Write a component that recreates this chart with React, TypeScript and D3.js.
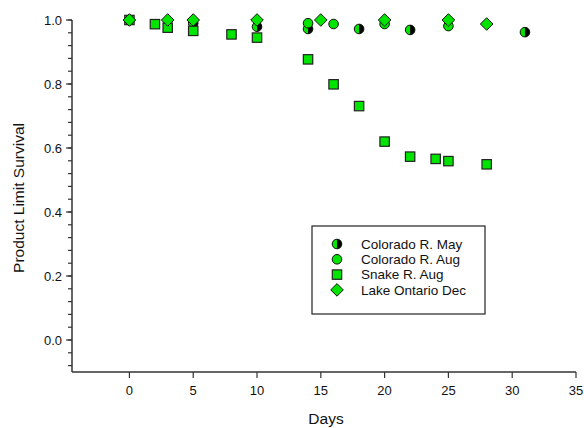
import React from "react";
import * as d3 from "d3";

const mayDays = [0, 5, 10, 14, 18, 22, 31];
const mayVals = [1.0, 0.99, 0.979, 0.972, 0.972, 0.969, 0.962];
const augDays = [0, 14, 16, 20, 25];
const augVals = [1.0, 0.99, 0.9875, 0.9875, 0.981];
const snakeDays = [0, 2, 3, 5, 8, 10, 14, 16, 18, 20, 22, 24, 25, 28];
const snakeVals = [1.0, 0.987, 0.976, 0.966, 0.955, 0.945, 0.877, 0.799, 0.731, 0.62, 0.573, 0.566, 0.559, 0.549];
const lakeDays = [0, 3, 5, 10, 15, 20, 25, 28];
const lakeVals = [1.0, 1.0, 1.0, 1.0, 1.0, 1.0, 1.0, 0.9875];
const xTicks = [0, 5, 10, 15, 20, 25, 30, 35];
const yTicks = [0.0, 0.2, 0.4, 0.6, 0.8, 1.0];
const seriesNames = ["Colorado R. May", "Colorado R. Aug", "Snake R. Aug", "Lake Ontario Dec"];

const GREEN = "#00e400";
const FONT = "Liberation Sans, Arial, sans-serif";

function Marker({ kind, x, y }: { kind: number; x: number; y: number }) {
  if (kind === 0) {
    const r = 4.8;
    return (
      <g>
        <circle cx={x} cy={y} r={r} fill={GREEN} stroke="none" />
        <path d={`M${x},${y - r} A${r},${r} 0 0 1 ${x},${y + r} Z`} fill="#000" />
        <circle cx={x} cy={y} r={r} fill="none" stroke="#111" strokeWidth={1} />
      </g>
    );
  }
  if (kind === 1) return <circle cx={x} cy={y} r={4.8} fill={GREEN} stroke="#111" strokeWidth={1} />;
  if (kind === 2) return <rect x={x - 4.7} y={y - 4.7} width={9.4} height={9.4} fill={GREEN} stroke="#222" strokeWidth={1.2} />;
  const s = 6.3;
  return <path d={`M${x},${y - s} L${x + s},${y} L${x},${y + s} L${x - s},${y} Z`} fill={GREEN} stroke="#111" strokeWidth={1} />;
}

export default function App() {
  const W = 584, H = 428;
  const x = d3.scaleLinear().domain([-4.5, 35]).range([72, 576]);
  const y = d3.scaleLinear().domain([-0.1, 1.0]).range([372, 20]);
  const minor = d3.range(-0.08, 1.0001, 0.04).map((v) => Math.round(v * 100) / 100);
  const series = [
    { days: mayDays, vals: mayVals },
    { days: augDays, vals: augVals },
    { days: snakeDays, vals: snakeVals },
    { days: lakeDays, vals: lakeVals },
  ];
  const axisColor = "#333";
  return (
    <svg width={W} height={H} style={{ position: "absolute", left: 0, top: 0, background: "#fff" }} fontFamily={FONT}>
      <rect width={W} height={H} fill="#fff" />
      {/* y axis */}
      <line x1={72} x2={72} y1={y(1.0)} y2={372} stroke={axisColor} strokeWidth={1.5} />
      {minor.map((v) => (
        <line key={"m" + v} x1={72} x2={68} y1={y(v)} y2={y(v)} stroke={axisColor} strokeWidth={1.2} />
      ))}
      {yTicks.map((v) => (
        <g key={"y" + v}>
          <line x1={72} x2={66} y1={y(v)} y2={y(v)} stroke={axisColor} strokeWidth={1.2} />
          <text x={62} y={y(v) + 4.7} textAnchor="end" fontSize={13} fill="#111">{v.toFixed(1)}</text>
        </g>
      ))}
      {/* x axis */}
      <line x1={72} x2={576} y1={372} y2={372} stroke={axisColor} strokeWidth={1.5} />
      {xTicks.map((v) => (
        <g key={"x" + v}>
          <line x1={x(v)} x2={x(v)} y1={372} y2={378} stroke={axisColor} strokeWidth={1.2} />
          <text x={x(v)} y={395} textAnchor="middle" fontSize={13} fill="#111">{v}</text>
        </g>
      ))}
      <text x={326} y={424} textAnchor="middle" fontSize={15.5} fill="#111">Days</text>
      <text transform={`translate(24,${(20 + 372) / 2 + 2}) rotate(-90)`} textAnchor="middle" fontSize={15.5} fill="#111">Product Limit Survival</text>
      {/* data */}
      {series.map((s, i) => (
        <g key={"s" + i}>
          {s.days.map((d, j) => (
            <Marker key={j} kind={i} x={x(d)} y={y(s.vals[j])} />
          ))}
        </g>
      ))}
      {/* legend */}
      <rect x={312} y={226} width={173} height={88} fill="#fff" stroke="#222" strokeWidth={1.2} />
      {seriesNames.map((n, i) => (
        <g key={"l" + i}>
          <Marker kind={i} x={337} y={244 + i * 15.3} />
          <text x={361} y={244 + i * 15.3 + 4.8} fontSize={13.5} fill="#111">{n}</text>
        </g>
      ))}
    </svg>
  );
}
